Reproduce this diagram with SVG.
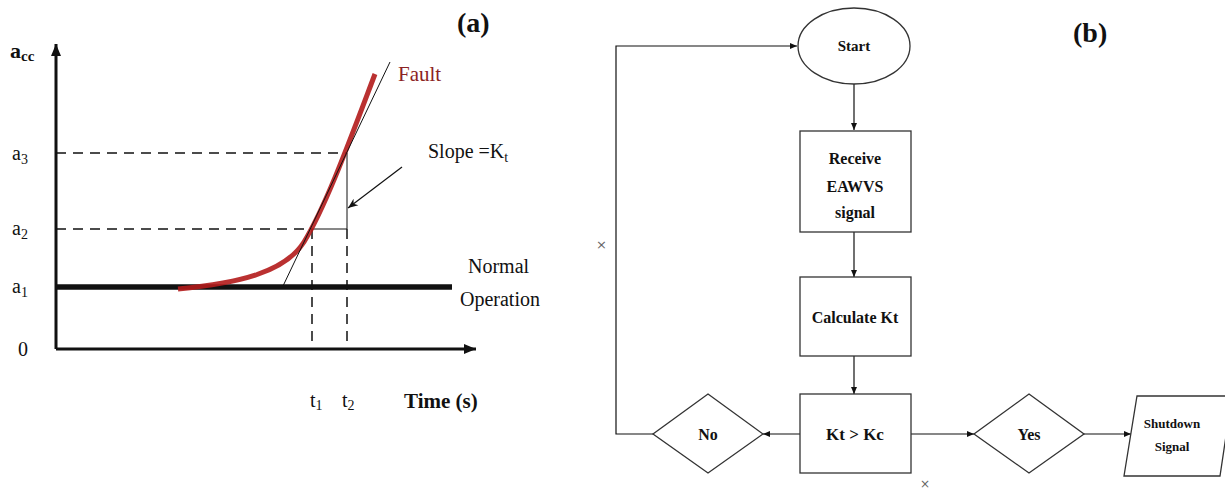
<svg xmlns="http://www.w3.org/2000/svg" width="1225" height="491" viewBox="0 0 1225 491">
<defs>
<style>
.t{font-family:"Liberation Serif",serif;fill:#111}
.b{font-weight:bold}
.fc{font-family:"Liberation Serif",serif;font-weight:bold;fill:#111;text-anchor:middle}
.ln{stroke:#111;fill:none}
.box{fill:#fff;stroke:#333;stroke-width:1.3}
.dash{stroke:#111;stroke-width:1.5;stroke-dasharray:10,7;fill:none}
</style>
<marker id="ah" markerWidth="8" markerHeight="8" refX="7" refY="4" orient="auto" markerUnits="userSpaceOnUse"><path d="M0,1 L7,4 L0,7 Z" fill="#111"/></marker>
<marker id="ah2" markerWidth="14" markerHeight="12" refX="12" refY="6" orient="auto" markerUnits="userSpaceOnUse"><path d="M0,1 L12,6 L0,11 Z" fill="#111"/></marker>
<marker id="ah3" markerWidth="12" markerHeight="10" refX="10" refY="5" orient="auto" markerUnits="userSpaceOnUse"><path d="M0,1 L10,5 L0,9 L3,5 Z" fill="#111"/></marker>
</defs>
<rect width="1225" height="491" fill="#fff"/>

<g id="graph-a">
<line class="ln" x1="56" y1="349" x2="56" y2="44" stroke-width="3" marker-end="url(#ah2)"/>
<line class="ln" x1="56" y1="349" x2="476" y2="349" stroke-width="3" marker-end="url(#ah2)"/>
<line class="dash" x1="56" y1="153" x2="347" y2="153"/>
<line class="dash" x1="56" y1="229" x2="312" y2="229"/>
<line class="ln" x1="312" y1="229" x2="347" y2="229" stroke-width="1"/>
<line class="ln" x1="347" y1="153" x2="347" y2="229" stroke-width="1"/>
<line class="dash" x1="312" y1="229" x2="312" y2="349"/>
<line class="dash" x1="347" y1="229" x2="347" y2="349"/>
<line class="ln" x1="56" y1="287" x2="452" y2="287" stroke-width="5.5"/>
<path d="M178,289 C240,283 285,272 304,242 C326,206 350,140 375,74" fill="none" stroke="#b31b1b" stroke-width="5" stroke-opacity="0.9"/>
<line class="ln" x1="283" y1="286" x2="390" y2="62" stroke-width="1"/>
<line class="ln" x1="402" y1="167" x2="348" y2="208" stroke-width="1.2" marker-end="url(#ah3)"/>
<text class="t b" x="10" y="58" font-size="22">a<tspan font-size="15" dy="3">cc</tspan></text>
<text class="t" x="12" y="160" font-size="20">a<tspan font-size="14" dy="4">3</tspan></text>
<text class="t" x="12" y="235" font-size="20">a<tspan font-size="14" dy="4">2</tspan></text>
<text class="t" x="12" y="293" font-size="20">a<tspan font-size="14" dy="4">1</tspan></text>
<text class="t" x="18" y="356" font-size="20">0</text>
<text class="t b" x="457" y="32" font-size="28">(a)</text>
<text class="t" x="398" y="81" font-size="21" style="fill:#8b2323">Fault</text>
<text class="t" x="428" y="158" font-size="20">Slope =K<tspan font-size="14" dy="4">t</tspan></text>
<text class="t" x="468" y="273" font-size="20">Normal</text>
<text class="t" x="460" y="306" font-size="20">Operation</text>
<text class="t" x="310" y="407" font-size="20">t<tspan font-size="14" dy="3">1</tspan></text>
<text class="t" x="342" y="407" font-size="20">t<tspan font-size="14" dy="3">2</tspan></text>
<text class="t b" x="404" y="408" font-size="21">Time (s)</text>
</g>

<g id="label-b"><text class="t b" x="1073" y="42" font-size="28">(b)</text></g>

<g id="connectors">
<line class="ln" x1="854" y1="84" x2="854" y2="130" stroke-width="1.2" marker-end="url(#ah)"/>
<line class="ln" x1="854" y1="232" x2="854" y2="277" stroke-width="1.2" marker-end="url(#ah)"/>
<line class="ln" x1="854" y1="356" x2="854" y2="394" stroke-width="1.2" marker-end="url(#ah)"/>
<line class="ln" x1="800" y1="434" x2="763" y2="434" stroke-width="1.2" marker-end="url(#ah)"/>
<line class="ln" x1="911" y1="434" x2="974" y2="434" stroke-width="1.2" marker-end="url(#ah)"/>
<line class="ln" x1="1084" y1="434" x2="1131" y2="434" stroke-width="1.2" marker-end="url(#ah)"/>
<polyline class="ln" points="653,434 616,434 616,46 797,46" stroke-width="1.2" marker-end="url(#ah)"/>
</g>

<g id="start"><ellipse class="box" cx="854" cy="46" rx="56" ry="38"/><text class="fc" x="854" y="51" font-size="15">Start</text></g>
<g id="receive"><rect class="box" x="800" y="131" width="111" height="101"/>
<text class="fc" x="855" y="164" font-size="16">Receive</text>
<text class="fc" x="855" y="192" font-size="16">EAWVS</text>
<text class="fc" x="855" y="218" font-size="16">signal</text></g>
<g id="calculate"><rect class="box" x="800" y="277" width="111" height="79"/><text class="fc" x="855" y="323" font-size="16">Calculate Kt</text></g>
<g id="compare"><rect class="box" x="800" y="394" width="111" height="79"/><text class="fc" x="855" y="440" font-size="17">Kt &gt; Kc</text></g>
<g id="no"><polygon class="box" points="708,394 763,434 708,473 653,434"/><text class="fc" x="708" y="440" font-size="16">No</text></g>
<g id="yes"><polygon class="box" points="1029,394 1084,434 1029,473 974,434"/><text class="fc" x="1029" y="440" font-size="16">Yes</text></g>
<g id="shutdown"><polygon class="box" points="1137,396 1232,396 1220,476 1124,476"/>
<text class="fc" x="1172" y="428" font-size="13">Shutdown</text>
<text class="fc" x="1172" y="451" font-size="13">Signal</text></g>

<text x="596" y="249" font-family="DejaVu Sans,sans-serif" font-size="13" fill="#666">×</text>
<text x="920" y="488" font-family="DejaVu Sans,sans-serif" font-size="12" fill="#666">×</text>
</svg>
